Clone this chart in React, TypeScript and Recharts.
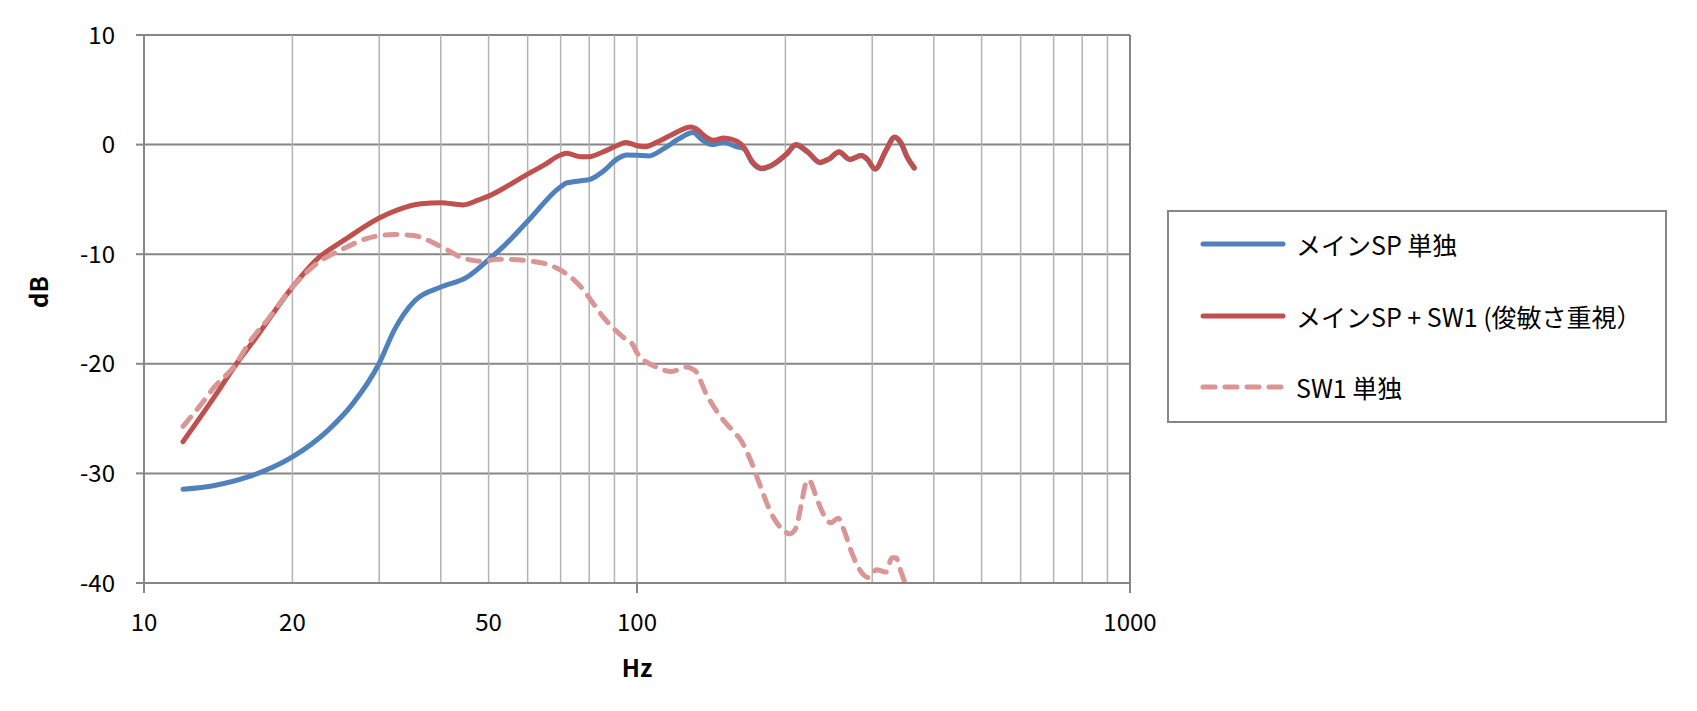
import { LineChart, Line, XAxis, YAxis, CartesianGrid, ReferenceLine, Legend } from "recharts"

// values (Hz / dB)
const mainFreq = [12, 13.9, 16.3, 20, 23.7, 26.4, 30, 32.2, 35.5, 40, 45.2, 50, 54, 60, 70, 72, 78.6, 80, 85.3, 91.6, 95.3, 100, 105.7, 113.5, 121.9, 129.8, 135.8, 141.9, 149.7, 159.5, 165, 171, 179, 187, 201, 210, 222, 235, 245, 257, 270, 285, 293, 304, 320, 333, 344, 353, 365]
const mainDb = [-31.45, -31.1, -30.3, -28.5, -26.0, -23.75, -19.95, -16.9, -14.2, -13.0, -12.1, -10.5, -9.15, -7.0, -3.85, -3.5, -3.25, -3.2, -2.45, -1.25, -0.95, -0.97, -1.03, -0.35, 0.55, 1.1, 0.4, 0.0, 0.2, -0.2, -0.4, -1.6, -2.2, -1.95, -0.9, -0.05, -0.7, -1.65, -1.35, -0.7, -1.35, -1.0, -1.35, -2.25, -0.55, 0.65, 0.0, -1.15, -2.15]

const comboFreq = [12, 13.9, 15.4, 16.75, 20, 22.5, 25.5, 30, 32.7, 36.5, 40, 44.4, 47.7, 50, 55, 60, 64.6, 70, 72, 77, 80, 85, 90, 95, 100, 104, 109.5, 117.6, 128.7, 131, 139, 143, 150, 159.5, 165, 171, 179, 187, 201, 210, 222, 235, 245, 257, 270, 285, 293, 304, 320, 333, 344, 353, 365]
const comboDb = [-27.1, -23.0, -20.0, -17.8, -13.0, -10.4, -8.7, -6.7, -5.95, -5.4, -5.3, -5.5, -5.05, -4.7, -3.7, -2.7, -1.9, -0.95, -0.8, -1.1, -1.1, -0.7, -0.2, 0.2, -0.1, -0.2, 0.2, 0.9, 1.6, 1.5, 0.6, 0.4, 0.6, 0.3, -0.3, -1.5, -2.15, -1.9, -0.85, 0.0, -0.65, -1.6, -1.3, -0.65, -1.35, -1.0, -1.3, -2.2, -0.5, 0.7, 0.1, -1.1, -2.1]

const sw1Freq = [12, 12.9, 13.9, 15.2, 16.5, 17.8, 20, 22.5, 25.5, 28.4, 32.2, 35.2, 40, 44.4, 48.5, 52, 60, 67, 74.5, 78, 81.5, 85.3, 93.3, 98.2, 100, 109.5, 117.6, 125.3, 131, 138, 146, 157, 162, 170, 178, 187, 196, 204, 210, 215, 220, 223, 232, 240, 247, 256, 263, 273, 283, 295, 306, 320, 329, 335, 344, 350, 362]
const sw1Db = [-25.7, -24.0, -22.1, -20.3, -17.8, -16.0, -13.0, -10.8, -9.45, -8.55, -8.2, -8.3, -9.3, -10.35, -10.65, -10.45, -10.6, -11.05, -12.35, -13.3, -14.5, -15.7, -17.5, -18.3, -19.0, -20.3, -20.7, -20.3, -20.6, -22.7, -24.5, -26.2, -26.9, -28.8, -31.2, -33.6, -35.0, -35.5, -35.0, -33.0, -30.9, -30.6, -32.4, -33.9, -34.5, -34.1, -35.2, -37.3, -38.8, -39.5, -38.8, -39.0, -37.7, -37.7, -39.1, -39.9, -40.0]

const xTicks = [10, 20, 50, 100, 1000]
const majorTicks = [10, 100, 1000]
const gridFreqs = [20, 30, 40, 50, 60, 70, 80, 90, 100, 200, 300, 400, 500, 600, 700, 800, 900]
const yTicks = [-40, -30, -20, -10, 0, 10]

const FONT = '"Noto Sans CJK JP", "Noto Sans", sans-serif'
const AXIS = "#868686"
const GRID_V = "#b3b3b3"

const zip = (f: number[], d: number[]) => f.map((v, i) => ({ f: v, db: d[i] }))

const series = [
    { name: "メインSP 単独", data: zip(mainFreq, mainDb), color: "#4f81bd", dash: undefined },
    { name: "メインSP + SW1 (俊敏さ重視）", data: zip(comboFreq, comboDb), color: "#c0504d", dash: undefined },
    { name: "SW1 単独", data: zip(sw1Freq, sw1Db), color: "#d99694", dash: "12 10" },
]

function FreqTick({ x, y, payload }: any) {
    const major = majorTicks.includes(payload.value)
    return (
        <g>
            {major && <line x1={x} x2={x} y1={y} y2={y + 10} stroke={AXIS} strokeWidth={2} />}
            <text x={x} y={y + 48} textAnchor="middle" fontSize={24} fill="#000" fontFamily={FONT}>
                {payload.value}
            </text>
        </g>
    )
}

function DbLabel({ viewBox }: any) {
    const cx = viewBox.x - 7
    const cy = viewBox.y + viewBox.height / 2 - 17
    return (
        <text x={cx} y={cy} transform={`rotate(-90 ${cx} ${cy})`} textAnchor="middle" dominantBaseline="central"
            fontSize={24} fontWeight="bold" fontFamily={FONT} fill="#000">dB</text>
    )
}

function HzLabel({ viewBox }: any) {
    return (
        <text x={viewBox.x + viewBox.width / 2} y={viewBox.y + 94} textAnchor="middle"
            fontSize={24} fontWeight="bold" fontFamily={FONT} fill="#000">Hz</text>
    )
}

function LegendBox({ payload }: any) {
    return (
        <div style={{
            width: 500, height: 213, boxSizing: "border-box", border: `2px solid ${AXIS}`,
            background: "#fff", position: "relative", fontFamily: FONT, fontSize: 25, color: "#000"
        }}>
            {(payload || []).map((entry: any, i: number) => {
                const s = series.find(t => t.name === entry.value)
                return (
                    <div key={entry.value} style={{
                        position: "absolute", left: 31, top: 32 + i * 71.5 - 20, height: 40,
                        display: "flex", alignItems: "center", whiteSpace: "nowrap"
                    }}>
                        <svg width={86} height={10}>
                            <line x1={3} x2={83} y1={5} y2={5} stroke={entry.color} strokeWidth={5}
                                strokeLinecap="round" strokeDasharray={s?.dash} />
                        </svg>
                        <span style={{ marginLeft: 10 }}>{entry.value}</span>
                    </div>
                )
            })}
        </div>
    )
}

export default function App() {
    return (
        <div style={{ position: "absolute", left: 0, top: 0, width: 1697, height: 711, background: "#fff" }}>
            <LineChart width={1697} height={711} margin={{ top: 35, right: 567, bottom: 68, left: 44 }}>

                {/* 横線は濃いめ、縦の補助線は薄いグレー */}
                <CartesianGrid vertical={false} stroke={AXIS} strokeWidth={2} />
                {gridFreqs.map(f => (
                    <ReferenceLine key={f} x={f} stroke={GRID_V} strokeWidth={1.5} />
                ))}
                <ReferenceLine x={1000} stroke={AXIS} strokeWidth={2} />

                <XAxis
                    type="number"
                    dataKey="f"
                    scale="log"
                    domain={[10, 1000]}
                    ticks={xTicks}
                    height={60}
                    tickSize={0}
                    tickMargin={0}
                    tickLine={false}
                    axisLine={{ stroke: AXIS, strokeWidth: 2 }}
                    tick={<FreqTick />}
                    label={<HzLabel />}
                    allowDuplicatedCategory={false}
                />
                <YAxis
                    type="number"
                    domain={[-40, 10]}
                    ticks={yTicks}
                    width={100}
                    tickSize={8}
                    tickMargin={21}
                    tickLine={{ stroke: AXIS, strokeWidth: 2 }}
                    axisLine={{ stroke: AXIS, strokeWidth: 2 }}
                    tick={{ fill: "#000", fontSize: 24, fontFamily: FONT }}
                    label={<DbLabel />}
                />

                {series.map(s => (
                    <Line
                        key={s.name}
                        data={s.data}
                        dataKey="db"
                        name={s.name}
                        type="monotone"
                        stroke={s.color}
                        strokeWidth={5}
                        strokeDasharray={s.dash}
                        strokeLinecap="round"
                        strokeLinejoin="round"
                        dot={false}
                        activeDot={false}
                        isAnimationActive={false}
                    />
                ))}

                <Legend
                    layout="horizontal"
                    verticalAlign="middle"
                    align="center"
                    itemSorter={(item: any) => series.findIndex(s => s.name === item.value)}
                    content={<LegendBox />}
                    wrapperStyle={{ left: 1167, top: 210, width: 500, height: 213 }}
                />
            </LineChart>
        </div>
    )
}
